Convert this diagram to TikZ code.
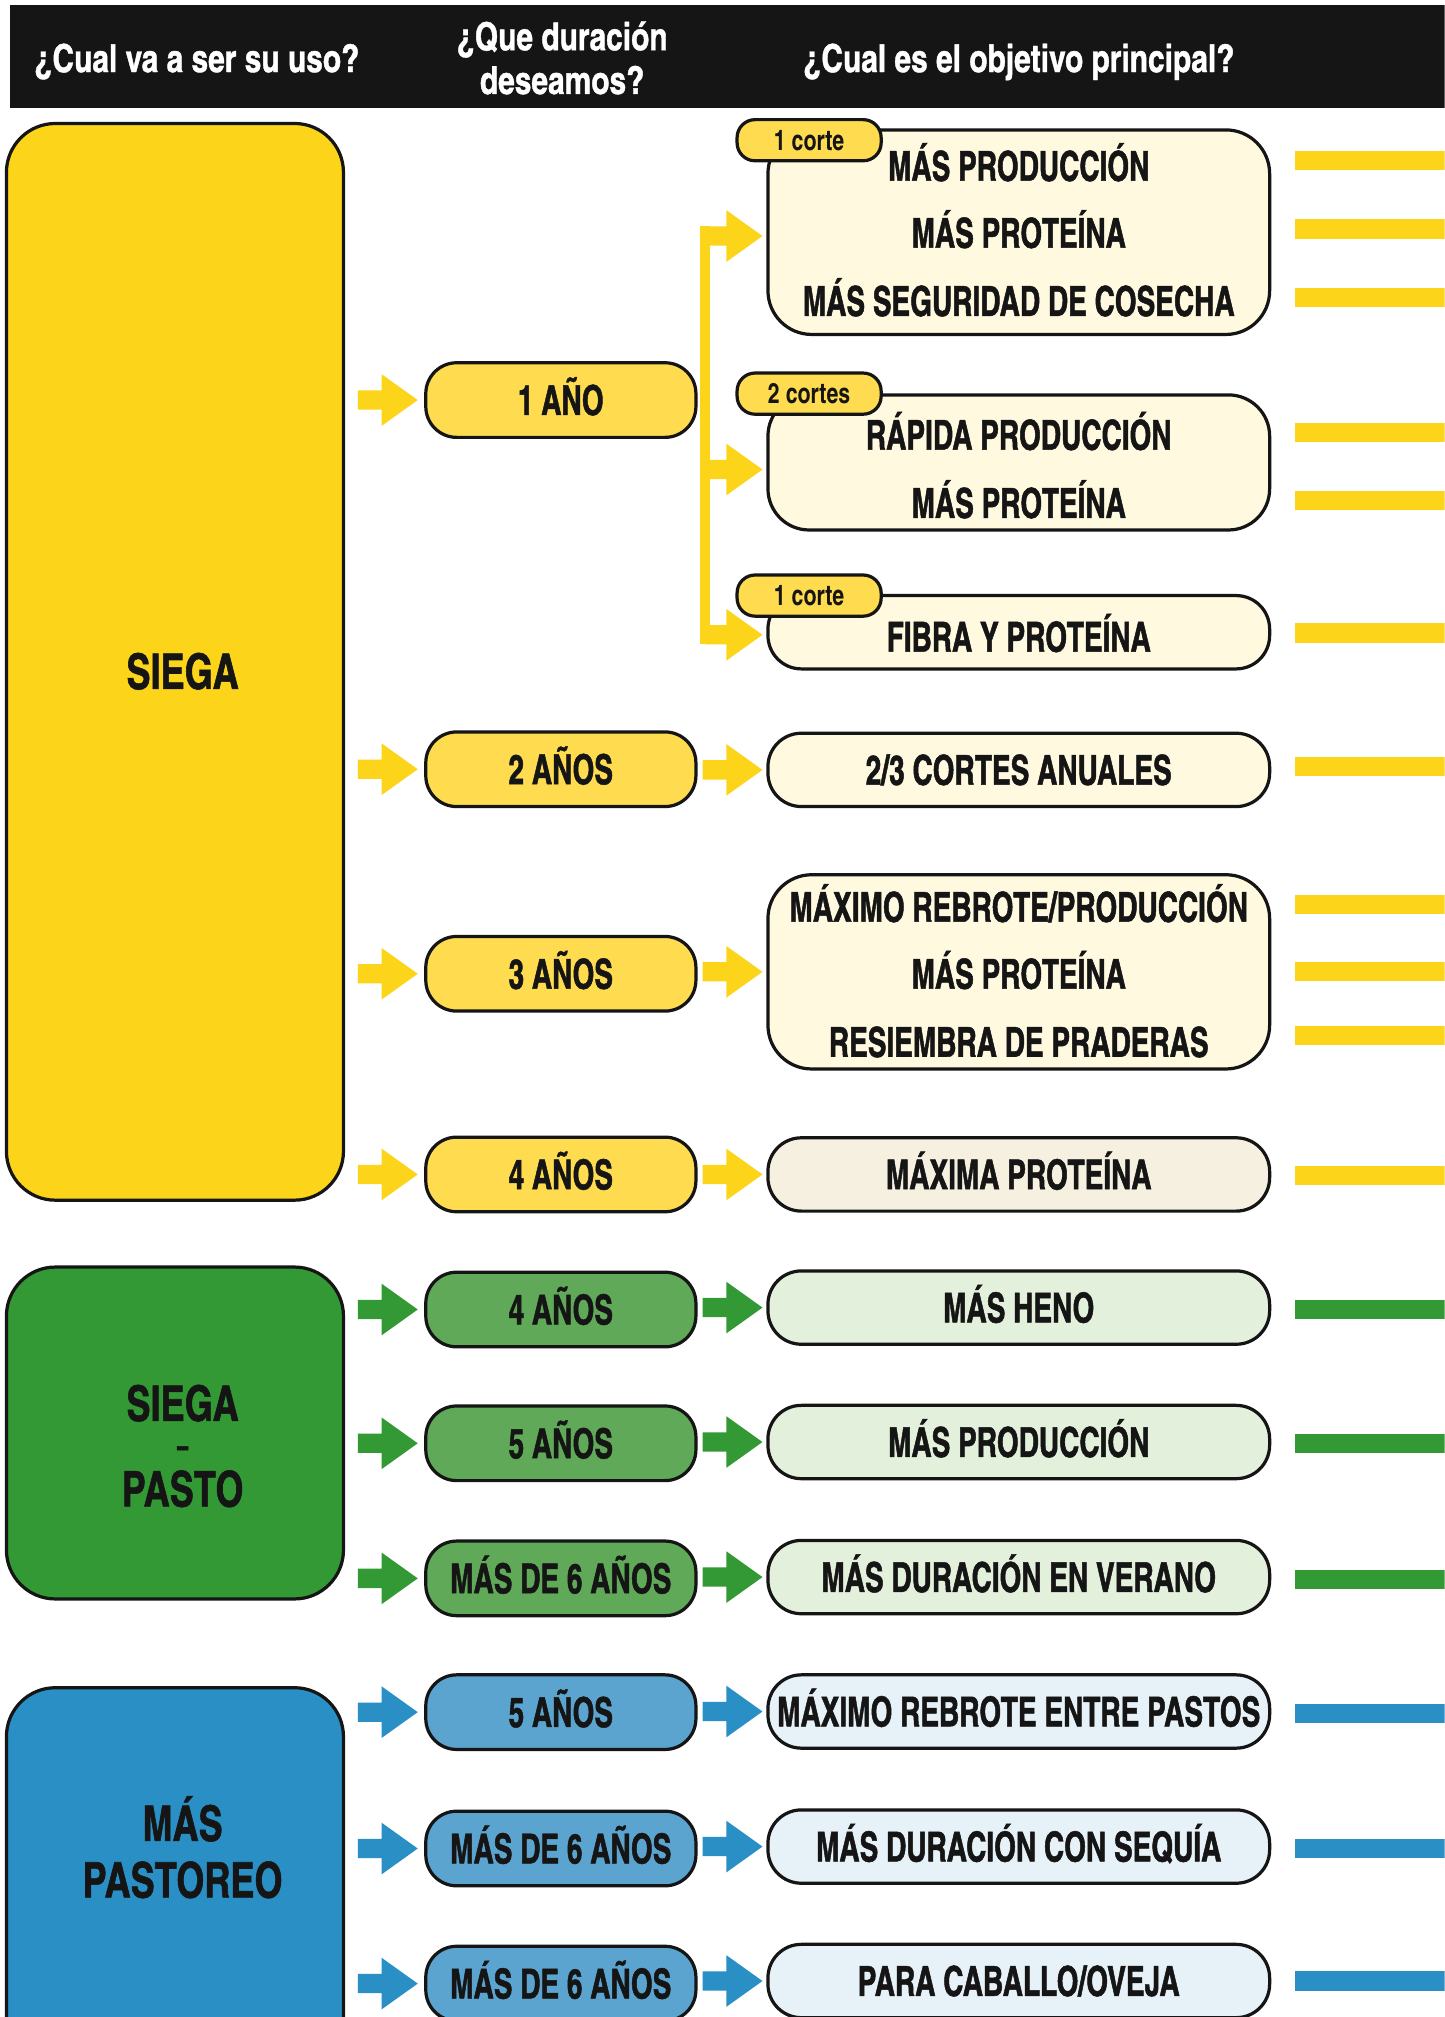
\documentclass[tikz,border=0pt]{standalone}
\usepackage{fontspec}
\newfontfamily\cnb{texgyreheroscn-bold.otf}[FakeStretch=0.83,FakeBold=1.2]
\newfontfamily\cnh{texgyreheroscn-bold.otf}[FakeStretch=0.945,FakeBold=1.0]
\newfontfamily\cng{texgyreheroscn-bold.otf}[FakeStretch=0.9,FakeBold=1.2]
\newfontfamily\cnd{texgyreheroscn-bold.otf}[FakeStretch=1.7,FakeBold=2.0]
\newfontfamily\cnt{texgyreheroscn-bold.otf}[FakeStretch=0.92]
\usetikzlibrary{calc}
\definecolor{ink}{HTML}{151515}
\definecolor{yb}{HTML}{FCD419}
\definecolor{yd}{HTML}{FFDC4F}
\definecolor{yo}{HTML}{FFF9DF}
\definecolor{yo2}{HTML}{F6F0E0}
\definecolor{gb}{HTML}{339935}
\definecolor{gd}{HTML}{5FA958}
\definecolor{go}{HTML}{E3F0DB}
\definecolor{bb}{HTML}{2A8FC4}
\definecolor{bd}{HTML}{5BA4CF}
\definecolor{bo}{HTML}{E6F1F8}
\newcommand\blk[3]{%
  \fill[#1] let \p1=(#2), \p2=(#3) in
   (\x1,\y2+7.5pt) -- (\x2-28pt,\y2+7.5pt) -- (\x2-28pt,\y2+20pt) -- (\x2,\y2)
   -- (\x2-28pt,\y2-20pt) -- (\x2-28pt,\y2-7.5pt) -- (\x1,\y2-7.5pt) -- cycle;}
\tikzset{
 bigbox/.style={draw=ink, line width=2.5pt, rounded corners=38pt, minimum width=262pt, inner sep=0pt},
 durbox/.style={draw=ink, line width=2.5pt, rounded corners=24pt, minimum width=210pt, minimum height=58pt,
   inner sep=0pt, font=\cnb\fontsize{32}{36}\selectfont, text=ink, text height=23pt, text depth=0pt},
 objbox/.style={draw=ink, line width=2.5pt, rounded corners=26pt, minimum width=390pt, minimum height=57pt,
   inner sep=0pt, font=\cnb\fontsize{32}{36}\selectfont, text=ink, text height=23pt, text depth=0pt},
 tagbox/.style={draw=ink, line width=2.5pt, rounded corners=14pt, fill=yd, minimum width=112pt, minimum height=32pt,
   inner sep=0pt, font=\cnt\fontsize{22}{24}\selectfont, text=ink, text height=16pt, text depth=0pt},
 lbl/.style={anchor=base, inner sep=0pt, font=\cnb\fontsize{32}{36}\selectfont, text=ink},
 hdr/.style={anchor=base, inner sep=0pt, font=\cnh\fontsize{30}{32}\selectfont, text=white},
 biglbl/.style={anchor=base, inner sep=0pt, font=\cng\fontsize{38}{40}\selectfont, text=ink},
}
\begin{document}
\begin{tikzpicture}[x=1pt,y=-1pt]
\clip (0,0) rectangle (1123,1568);
\fill[white] (0,0) rectangle (1123,1568);
% header
\fill[ink] (8,4) rectangle (1130,84);
\node[hdr] (h1) at (153,56) {¿Cual va a ser su uso?};
\node[hdr] (h2) at (437,39) {¿Que duración};
\node[hdr] (h3) at (437,73) {deseamos?};
\node[hdr] (h4) at (792,56) {¿Cual es el objetivo principal?};
% left boxes
\node[bigbox, fill=yb, minimum height=837pt] (sg) at (136,514.5) {};
\node[biglbl] (sgl) at (142,535.5) {SIEGA};
\node[bigbox, fill=gb, minimum height=258pt] (sp) at (136,1114) {};
\node[biglbl] (spl1) at (142,1104.5) {SIEGA};
\node[biglbl, font=\cnd\fontsize{22}{24}\selectfont] (spl2) at (142,1132) {-};
\node[biglbl] (spl3) at (142,1171) {PASTO};
\node[bigbox, fill=bb, minimum height=320pt] (mp) at (136,1472) {};
\node[biglbl] (mpl1) at (142,1431) {MÁS};
\node[biglbl] (mpl2) at (142,1475) {PASTOREO};
% duration boxes
\node[durbox, fill=yd] (d1) at (436,311) {1 AÑO};
\node[durbox, fill=yd] (d2) at (436,598) {2 AÑOS};
\node[durbox, fill=yd] (d3) at (436,757) {3 AÑOS};
\node[durbox, fill=yd] (d4) at (436,913) {4 AÑOS};
\node[durbox, fill=gd] (d5) at (436,1018) {4 AÑOS};
\node[durbox, fill=gd] (d6) at (436,1122) {5 AÑOS};
\node[durbox, fill=gd] (d7) at (436,1227) {MÁS DE 6 AÑOS};
\node[durbox, fill=bd] (d8) at (436,1331) {5 AÑOS};
\node[durbox, fill=bd] (d9) at (436,1437) {MÁS DE 6 AÑOS};
\node[durbox, fill=bd] (d10) at (436,1542) {MÁS DE 6 AÑOS};
% objective boxes
\node[objbox, fill=yo, minimum height=159pt, rounded corners=34pt] (o1) at (792,180.5) {};
\node[lbl] (o1a) at (792,140.5) {MÁS PRODUCCIÓN};
\node[lbl] (o1b) at (792,192.5) {MÁS PROTEÍNA};
\node[lbl] (o1c) at (792,245.5) {MÁS SEGURIDAD DE COSECHA};
\node[objbox, fill=yo, minimum height=105pt, rounded corners=32pt] (o2) at (792,359.5) {};
\node[lbl] (o2a) at (792,349.5) {RÁPIDA PRODUCCIÓN};
\node[lbl] (o2b) at (792,402.5) {MÁS PROTEÍNA};
\node[objbox, fill=yo] (o3) at (792,491.5) {};
\node[lbl] (o3a) at (792,506.5) {FIBRA Y PROTEÍNA};
\node[objbox, fill=yo] (o4) at (792,598.5) {2/3 CORTES ANUALES};
\node[objbox, fill=yo, minimum height=151pt, rounded corners=34pt] (o5) at (792,755.5) {};
\node[lbl] (o5a) at (792,716.5) {MÁXIMO REBROTE/PRODUCCIÓN};
\node[lbl] (o5b) at (792,768.5) {MÁS PROTEÍNA};
\node[lbl] (o5c) at (792,821.5) {RESIEMBRA DE PRADERAS};
\node[objbox, fill=yo2] (o6) at (792,913) {MÁXIMA PROTEÍNA};
\node[objbox, fill=go] (o7) at (792,1016.5) {MÁS HENO};
\node[objbox, fill=go] (o8) at (792,1121) {MÁS PRODUCCIÓN};
\node[objbox, fill=go] (o9) at (792,1226) {MÁS DURACIÓN EN VERANO};
\node[objbox, fill=bo] (o10) at (792,1330.5) {MÁXIMO REBROTE ENTRE PASTOS};
\node[objbox, fill=bo] (o11) at (792,1435.5) {MÁS DURACIÓN CON SEQUÍA};
\node[objbox, fill=bo] (o12) at (792,1540) {PARA CABALLO/OVEJA};
% tags
\node[tagbox] (t1) at (629,109) {1 corte};
\node[tagbox] (t2) at (629,306) {2 cortes};
\node[tagbox] (t3) at (629,463) {1 corte};
% arrows left -> duration
\foreach \s/\d/\c in {sg/d1/yb, sg/d2/yb, sg/d3/yb, sg/d4/yb, sp/d5/gb, sp/d6/gb, sp/d7/gb, mp/d8/bb, mp/d9/bb, mp/d10/bb}
  {\blk{\c}{[xshift=10pt]\s.east}{[xshift=-5pt]\d.west}}
% arrows duration -> objective
\foreach \s/\d/\c in {d2/o4/yb, d3/o5/yb, d4/o6/yb, d5/o7/gb, d6/o8/gb, d7/o9/gb, d8/o10/bb, d9/o11/bb, d10/o12/bb}
  {\blk{\c}{[xshift=4pt]\s.east}{[xshift=-3pt]\d.west}}
% bracket for 1 ANO
\coordinate (br) at ([xshift=6pt]d1.east);
\coordinate (a1) at ([xshift=-3pt,yshift=-3pt]o1.west);
\coordinate (a2) at ([xshift=-3pt,yshift=-5.5pt]o2.west);
\coordinate (a3) at ([xshift=-3pt,yshift=-2pt]o3.west);
\draw[yb, line width=8pt] ($(br |- a1)+(0,-7.5)$) -- ($(br |- a3)+(0,7.5)$);
\blk{yb}{br}{a1}
\blk{yb}{br}{a2}
\blk{yb}{br}{a3}
% right-hand bars
\foreach \y/\c in {125/yb,178/yb,231/yb,336/yb,389/yb,492/yb,596/yb,703/yb,755/yb,805/yb,914/yb,1018/gb,1122/gb,1228/gb,1332/bb,1437/bb,1540/bb}
  {\fill[\c] (1007,\y-7.5) rectangle (1130,\y+7.5);}
\end{tikzpicture}
\end{document}
